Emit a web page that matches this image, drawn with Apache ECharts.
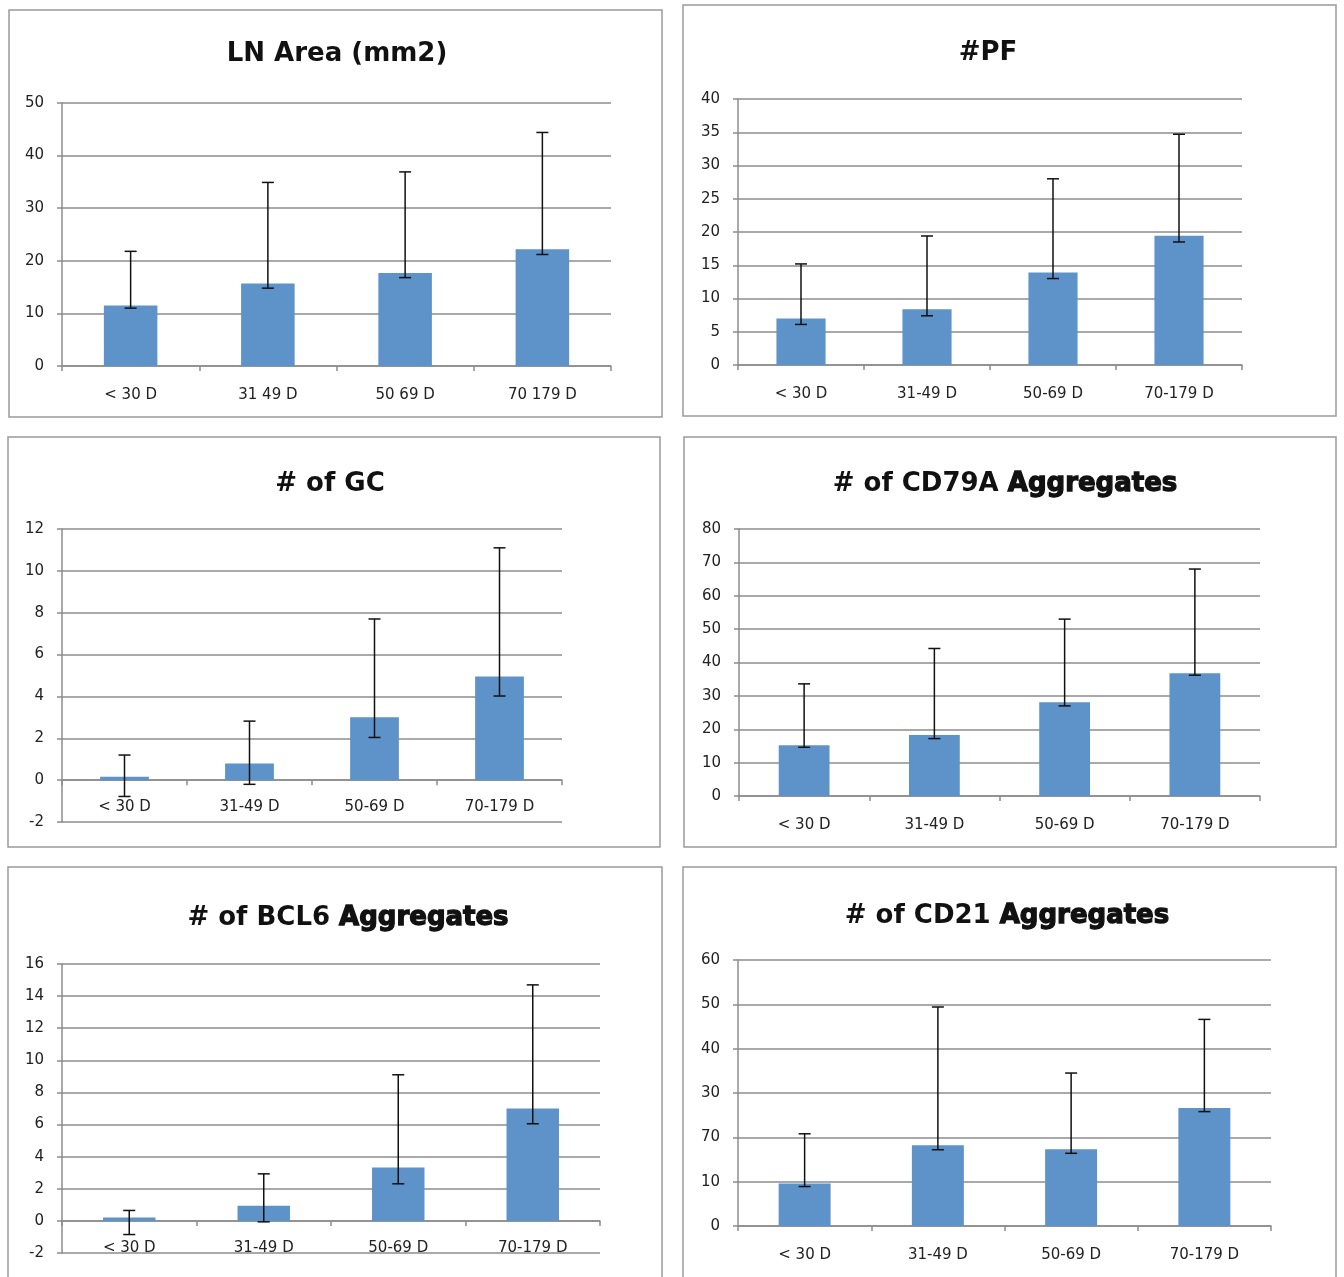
<!DOCTYPE html>
<html><head><meta charset="utf-8">
<script src="https://cdn.jsdelivr.net/npm/echarts@6/dist/echarts.min.js"></script>
<style>html,body{margin:0;padding:0;background:#fff}#c{width:1344px;height:1277px}</style>
</head><body><div id="c"></div>
<script>
// ---- data ----
const categoriesStd = ['< 30 D', '31-49 D', '50-69 D', '70-179 D'];
const categoriesLN = ['< 30 D', '31 49 D', '50 69 D', '70 179 D'];

const lnArea = [11.5, 15.7, 17.7, 22.2];
const lnAreaHigh = [21.8, 34.9, 36.9, 44.4];
const lnAreaLow = [11.0, 14.8, 16.8, 21.2];

const pf = [7.0, 8.4, 13.9, 19.45];
const pfHigh = [15.2, 19.4, 28.0, 34.7];
const pfLow = [6.1, 7.4, 13.0, 18.5];

const gc = [0.16, 0.8, 3.0, 4.95];
const gcHigh = [1.2, 2.82, 7.7, 11.1];
const gcLow = [-0.78, -0.2, 2.04, 4.02];

const cd79a = [15.2, 18.3, 28.1, 36.8];
const cd79aHigh = [33.6, 44.2, 53.0, 68.0];
const cd79aLow = [14.6, 17.2, 27.0, 36.2];

const bcl6 = [0.21, 0.94, 3.33, 7.0];
const bcl6High = [0.65, 2.93, 9.1, 14.7];
const bcl6Low = [-0.85, -0.06, 2.31, 6.05];

const cd21 = [9.6, 18.2, 17.3, 26.6];
const cd21High = [20.8, 49.4, 34.5, 46.6];
const cd21Low = [8.9, 17.2, 16.4, 25.8];

const cd21TickLabels = ['0', '10', '70', '30', '40', '50', '60'];

// ---- panels ----
const panels = [
  { title: '{a|LN Area (mm2)}', cats: categoriesLN, vals: lnArea, hi: lnAreaHigh, lo: lnAreaLow,
    min: 0, max: 50, step: 10, frame: [9, 10, 653, 407], grid: [62, 103, 549, 263], tc: [337, 57], xm: 22 },
  { title: '{a|#PF}', cats: categoriesStd, vals: pf, hi: pfHigh, lo: pfLow,
    min: 0, max: 40, step: 5, frame: [683, 5, 653, 411], grid: [738, 99, 504, 266], tc: [988, 56], xm: 22 },
  { title: '{a|# of GC}', cats: categoriesStd, vals: gc, hi: gcHigh, lo: gcLow,
    min: -2, max: 12, step: 2, frame: [8, 437, 652, 410], grid: [62, 529, 500, 293], tc: [330, 487], xm: -22 },
  { title: '{a|# of CD79A }{b|Aggregates}', cats: categoriesStd, vals: cd79a, hi: cd79aHigh, lo: cd79aLow,
    min: 0, max: 80, step: 10, frame: [684, 437, 652, 410], grid: [739, 529, 521, 267], tc: [1005, 487], xm: 22 },
  { title: '{a|# of BCL6 }{b|Aggregates}', cats: categoriesStd, vals: bcl6, hi: bcl6High, lo: bcl6Low,
    min: -2, max: 16, step: 2, frame: [8, 867, 654, 420], grid: [62, 964, 538, 289], tc: [348, 921], xm: -12 },
  { title: '{a|# of CD21 }{b|Aggregates}', cats: categoriesStd, vals: cd21, hi: cd21High, lo: cd21Low,
    min: 0, max: 60, step: 10, frame: [683, 867, 653, 420], grid: [738, 960, 533, 266], tc: [1007, 919], xm: 22,
    tickLabels: cd21TickLabels }
];

const FONT = 'DejaVu Sans';
const GRAY = '#8c8c8c';
const TXT = '#222';
const BAR = '#5d93c9';

const titleRich = {
  a: { fontFamily: FONT, fontWeight: 'bold', fontSize: 26, color: '#111' },
  b: { fontFamily: FONT, fontWeight: 'bold', fontSize: 26, color: '#111', textBorderColor: '#111', textBorderWidth: 1.3 }
};

const option = {
  animation: false,
  backgroundColor: '#fff',
  title: panels.map(p => ({
    text: p.title, left: p.tc[0], top: p.tc[1] - 16, textAlign: 'center', padding: 0,
    textStyle: { rich: titleRich }
  })),
  graphic: panels.map(p => ({
    type: 'rect', shape: { x: p.frame[0], y: p.frame[1], width: p.frame[2], height: p.frame[3] },
    style: { fill: 'none', stroke: '#9a9a9a', lineWidth: 1.5 }, silent: true, z: -10
  })),
  grid: panels.map(p => ({ left: p.grid[0], top: p.grid[1], width: p.grid[2], height: p.grid[3] })),
  xAxis: panels.map((p, i) => ({
    type: 'category', gridIndex: i, data: p.cats, boundaryGap: true,
    axisLine: { show: true, onZero: true, lineStyle: { color: GRAY, width: 1.5 } },
    axisTick: { show: true, length: 5, lineStyle: { color: GRAY, width: 1.5 } },
    axisLabel: { fontFamily: FONT, fontSize: 15, color: TXT, margin: p.xm },
    splitLine: { show: false }
  })),
  yAxis: panels.map((p, i) => ({
    type: 'value', gridIndex: i, min: p.min, max: p.max, interval: p.step,
    axisLine: { show: true, lineStyle: { color: GRAY, width: 1.5 } },
    axisTick: { show: true, length: 5, lineStyle: { color: GRAY, width: 1.5 } },
    axisLabel: {
      fontFamily: FONT, fontSize: 15, color: TXT, margin: 18,
      formatter: p.tickLabels ? (v => p.tickLabels[Math.round((v - p.min) / p.step)]) : (v => String(v))
    },
    splitLine: { show: true, lineStyle: { color: GRAY, width: 1.5 } }
  })),
  series: []
};

panels.forEach((p, i) => {
  option.series.push({
    type: 'bar', xAxisIndex: i, yAxisIndex: i, data: p.vals, barWidth: '39%',
    itemStyle: { color: BAR }, z: 2
  });
  option.series.push({
    type: 'custom', xAxisIndex: i, yAxisIndex: i, z: 5,
    encode: { x: 0, y: [1, 2] },
    data: p.vals.map((v, k) => [k, p.lo[k], p.hi[k]]),
    renderItem: function (params, api) {
      const x = api.value(0), lo = api.value(1), hi = api.value(2);
      const a = api.coord([x, hi]), b = api.coord([x, lo]);
      const w = 6;
      const st = { stroke: '#111', lineWidth: 1.5 };
      return {
        type: 'group', children: [
          { type: 'line', shape: { x1: a[0], y1: a[1], x2: b[0], y2: b[1] }, style: st },
          { type: 'line', shape: { x1: a[0] - w, y1: a[1], x2: a[0] + w, y2: a[1] }, style: st },
          { type: 'line', shape: { x1: b[0] - w, y1: b[1], x2: b[0] + w, y2: b[1] }, style: st }
        ]
      };
    }
  });
});

const chart = echarts.init(document.getElementById('c'), null, { renderer: 'canvas' });
chart.setOption(option);
</script>
</body></html>
